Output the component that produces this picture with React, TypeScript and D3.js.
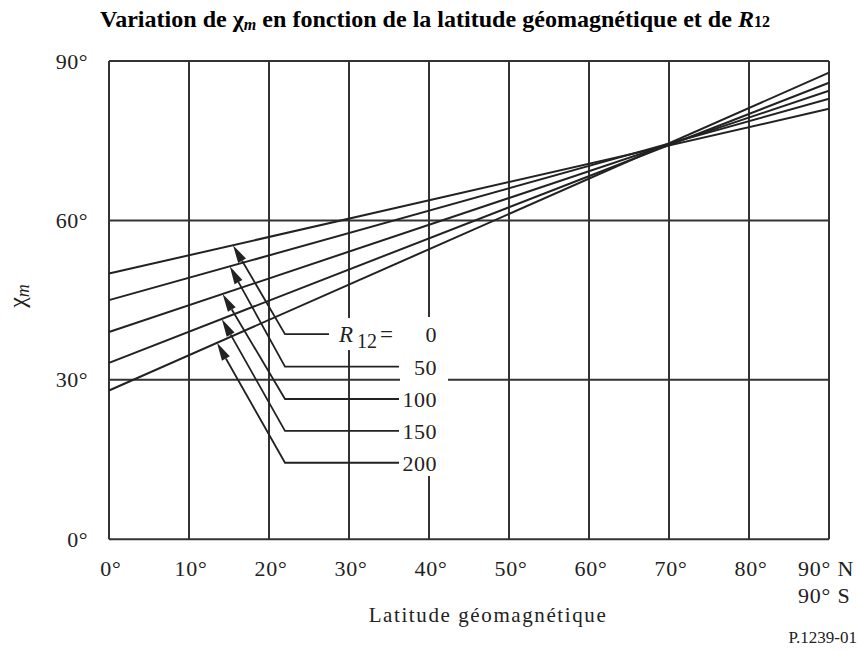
import React from "react";
import * as d3 from "d3";

// ---- data ----
const xTicks = [0, 10, 20, 30, 40, 50, 60, 70, 80, 90];
const xTickLabels = ["0°", "10°", "20°", "30°", "40°", "50°", "60°", "70°", "80°", ""];
const yTicks = [0, 30, 60, 90];
const yTickLabels = ["0°", "30°", "60°", "90°"];
const r12Values = ["0", "50", "100", "150", "200"];
const chiAtEquator = [50, 45, 39, 33.2, 28];
const chiAtPole = [81, 82.9, 84.4, 85.9, 87.8];
// arrow annotation anchors (latitude on the curve, tail point, leader end)
const arrowTipLat = [15.5, 15.1, 14.2, 14.1, 13.5];
const arrowTailLat = [22, 22, 22, 22, 22];
const arrowTailChi = [38.6, 32.5, 26.4, 20.4, 14.4];
const leaderEndLat = [27.5, 36.25, 36.25, 36.25, 36.25];

const W = 860;
const H = 651;
const M = { left: 109, right: 829, top: 61, bottom: 539.3 };

export default function App() {
  const x = d3.scaleLinear().domain([0, 90]).range([M.left, M.right]);
  const y = d3.scaleLinear().domain([0, 90]).range([M.bottom, M.top]);
  const line = d3
    .line<[number, number]>()
    .x((d) => x(d[0]))
    .y((d) => y(d[1]));
  const ink = "#222";
  const grid = "#333";
  const font = "'Liberation Serif', 'Times New Roman', serif";

  const arrows = r12Values.map((lab, i) => {
    const tipChi = chiAtEquator[i] + ((chiAtPole[i] - chiAtEquator[i]) * arrowTipLat[i]) / 90;
    const tx = x(arrowTipLat[i]);
    const ty = y(tipChi);
    const bx = x(arrowTailLat[i]);
    const by = y(arrowTailChi[i]);
    const ex = x(leaderEndLat[i]);
    const dx = tx - bx;
    const dy = ty - by;
    const len = Math.hypot(dx, dy);
    const ux = dx / len;
    const uy = dy / len;
    const hl = 18;
    const hw = 4.5;
    const baseX = tx - ux * hl;
    const baseY = ty - uy * hl;
    const head = [
      [tx, ty],
      [baseX - uy * hw, baseY + ux * hw],
      [baseX + uy * hw, baseY - ux * hw],
    ];
    return { lab, tx, ty, bx, by, ex, baseX, baseY, head };
  });

  return (
    <svg width={W} height={H} style={{ display: "block", position: "absolute", left: 0, top: 0 }} fontFamily={font}>
      <rect width={W} height={H} fill="#fff" />
      {/* title */}
      <text x={435} y={27} textAnchor="middle" fontSize={24} fontWeight="bold" fill="#000" textLength={670} lengthAdjust="spacingAndGlyphs">
        Variation de χ<tspan fontStyle="italic" fontSize={16} dy={3}>m</tspan>
        <tspan dy={-3}> en fonction de la latitude géomagnétique et de </tspan>
        <tspan fontStyle="italic">R</tspan>
        <tspan fontSize={16}>12</tspan>
      </text>

      {/* grid */}
      {xTicks.map((t) => (
        <line key={"gx" + t} x1={x(t)} x2={x(t)} y1={y(0)} y2={y(90)} stroke={grid} strokeWidth={2} />
      ))}
      {yTicks.map((t) => (
        <line key={"gy" + t} x1={x(0)} x2={x(90)} y1={y(t)} y2={y(t)} stroke={grid} strokeWidth={2} />
      ))}

      {/* curves */}
      {r12Values.map((lab, i) => (
        <path
          key={"c" + lab}
          d={line([
            [0, chiAtEquator[i]],
            [90, chiAtPole[i]],
          ]) || ""}
          fill="none"
          stroke={ink}
          strokeWidth={2}
        />
      ))}

      {/* label background masks */}
      <rect x={334} y={318} width={64} height={32} fill="#fff" />
      <rect x={400} y={317} width={48} height={159} fill="#fff" />

      {/* arrows */}
      {arrows.map((a) => (
        <g key={"a" + a.lab}>
          <polyline
            points={`${a.baseX},${a.baseY} ${a.bx},${a.by} ${a.ex},${a.by}`}
            fill="none"
            stroke={ink}
            strokeWidth={1.8}
          />
          <polygon points={a.head.map((p) => p.join(",")).join(" ")} fill={ink} />
        </g>
      ))}

      {/* R12 labels */}
      <text x={339} y={342} fontSize={23} fill={ink}>
        <tspan fontStyle="italic">R</tspan>
        <tspan fontSize={20} dx={4} dy={6}>12</tspan>
        <tspan dy={-6} dx={3}>=</tspan>
      </text>
      {arrows.map((a) => (
        <text key={"l" + a.lab} x={437} y={a.by + 8} textAnchor="end" fontSize={22} fill={ink} letterSpacing={0.5}>
          {a.lab}
        </text>
      ))}

      {/* y tick labels */}
      {yTicks.map((t, i) => (
        <text key={"yl" + t} x={88} y={y(t) + 7.5} textAnchor="end" fontSize={22} fill={ink} letterSpacing={0.5}>
          {yTickLabels[i]}
        </text>
      ))}
      {/* x tick labels */}
      {xTicks.map((t, i) => (
        <text key={"xl" + t} x={x(t) + 2} y={576} textAnchor="middle" fontSize={22} fill={ink} letterSpacing={0.8}>
          {xTickLabels[i]}
        </text>
      ))}
      <text x={798} y={576} fontSize={22} fill={ink} letterSpacing={0.8}>90° N</text>
      <text x={798} y={603} fontSize={22} fill={ink} letterSpacing={0.8}>90° S</text>

      {/* axis titles */}
      <text x={488} y={622} textAnchor="middle" fontSize={21} fill={ink} letterSpacing={1.6}>
        Latitude géomagnétique
      </text>
      <text transform="translate(25,296) rotate(-90)" textAnchor="middle" fontSize={24} fill={ink}>
        χ<tspan fontStyle="italic" fontSize={18} dy={4}>m</tspan>
      </text>
      <text x={857} y={643} textAnchor="end" fontSize={17} fill={ink}>
        P.1239-01
      </text>
    </svg>
  );
}
